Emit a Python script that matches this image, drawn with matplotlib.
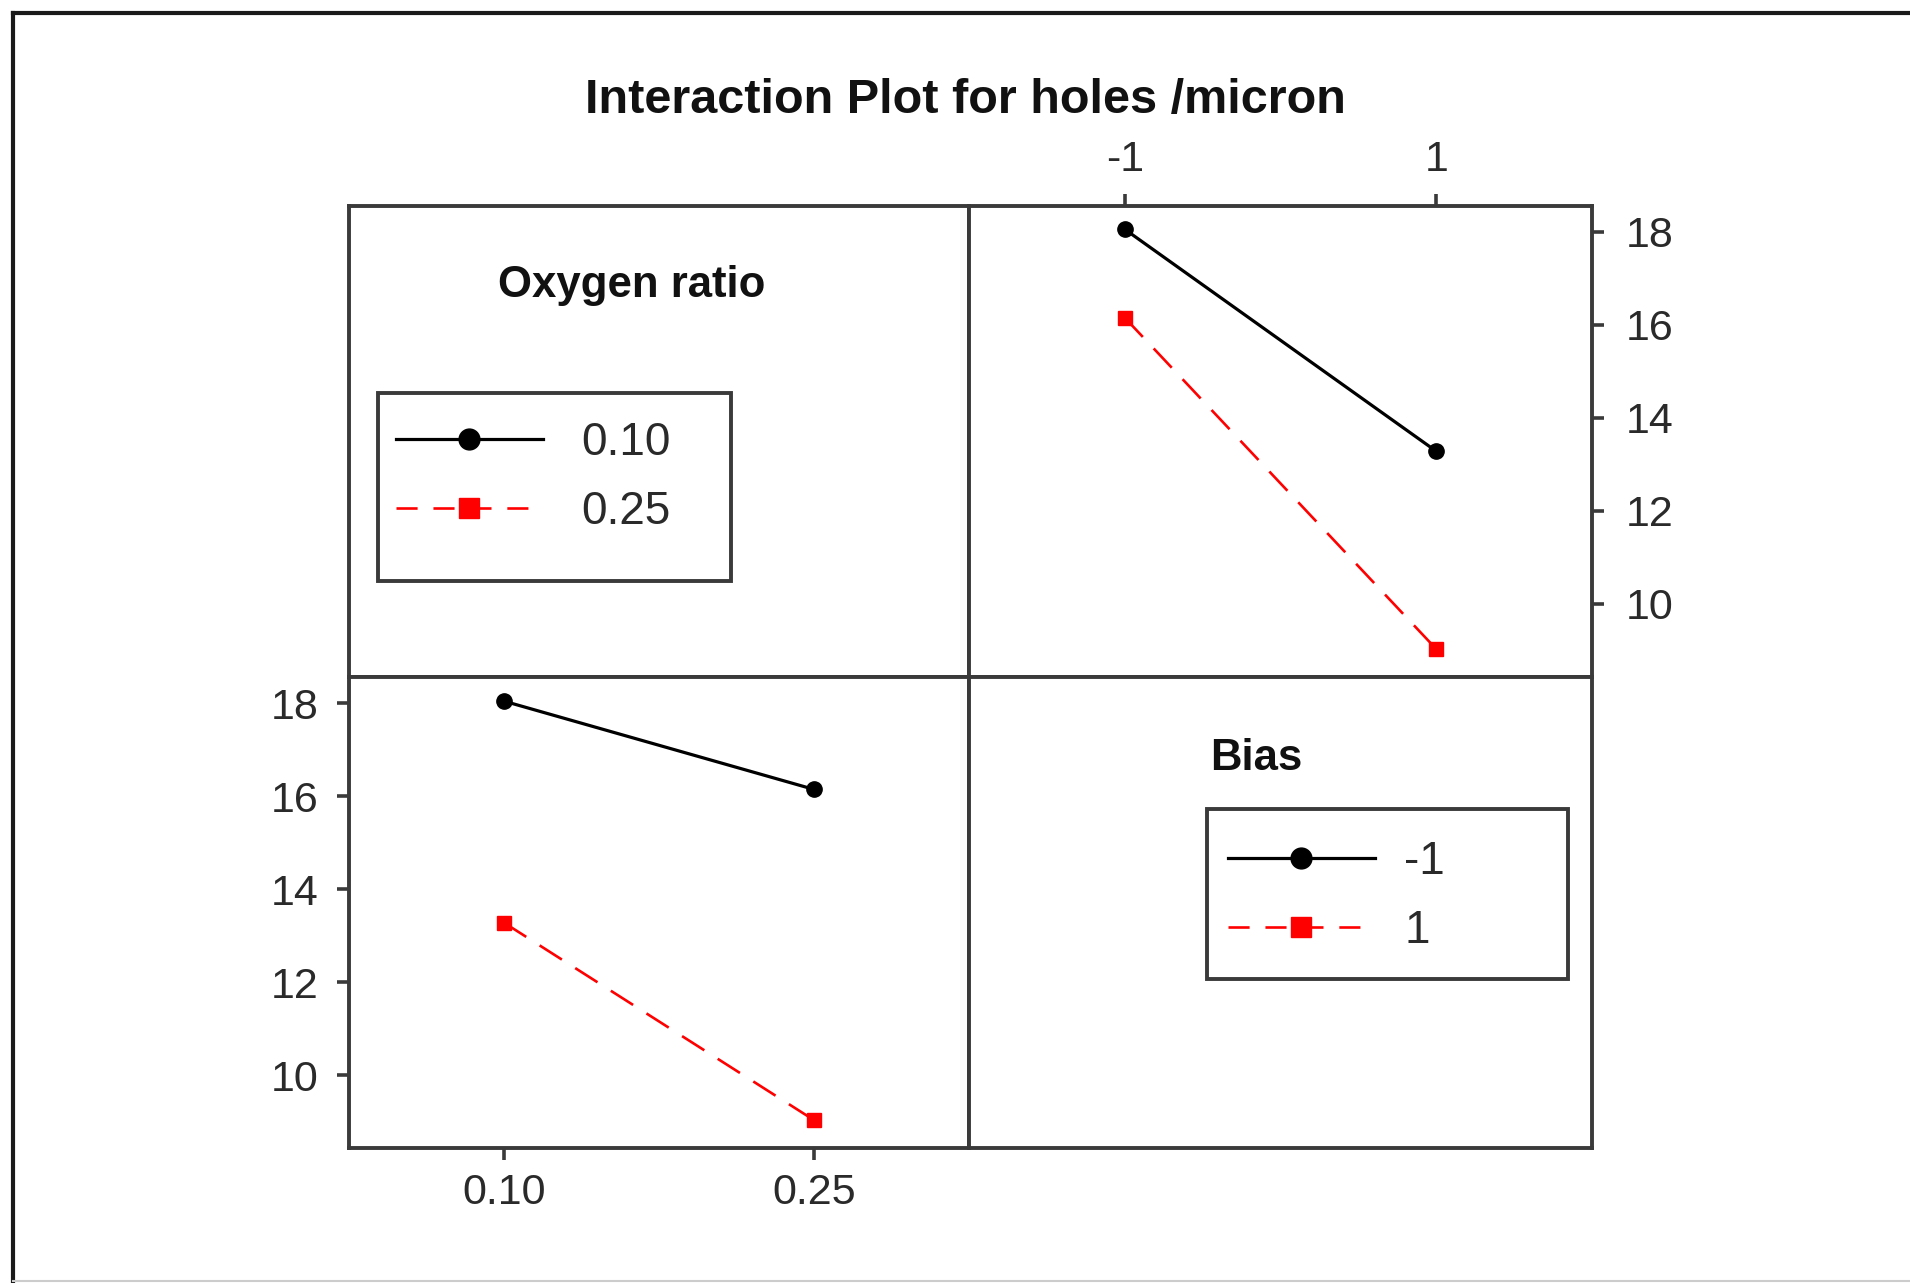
import matplotlib
matplotlib.use("Agg")
import matplotlib.pyplot as plt
from matplotlib.lines import Line2D
from matplotlib.patches import Rectangle

plt.rcParams['font.family'] = ['Liberation Sans', 'DejaVu Sans']

# cell means of holes/micron for each factor combination
oxygen_levels = [0.10, 0.25]
bias_levels = [-1, 1]
oxygen_labels = ['0.10', '0.25']
bias_labels = ['-1', '1']
# rows: oxygen ratio, columns: bias
mean_ox010 = [18.05, 13.28]
mean_ox025 = [16.15, 9.03]
# rows: bias, columns: oxygen ratio
mean_bias_m1 = [18.05, 16.15]
mean_bias_p1 = [13.28, 9.03]
y_ticks = [10, 12, 14, 16, 18]

W, H = 1910, 1283
fig = plt.figure(figsize=(W / 100, H / 100), dpi=100)

frame_col = '#3a3a3a'
x0, x1, x2 = 349 / W, 969 / W, 1592 / W
y_top, y_mid, y_bot = 1 - 206 / H, 1 - 677 / H, 1 - 1148 / H
pw, ph = x1 - x0, y_top - y_mid

ax_tl = fig.add_axes([x0, y_mid, pw, ph])
ax_tr = fig.add_axes([x1, y_mid, x2 - x1, ph])
ax_bl = fig.add_axes([x0, y_bot, pw, y_mid - y_bot])
ax_br = fig.add_axes([x1, y_bot, x2 - x1, y_mid - y_bot])

for ax in (ax_tl, ax_tr, ax_bl, ax_br):
    for sp in ax.spines.values():
        sp.set_color(frame_col)
        sp.set_linewidth(2.8)
    ax.tick_params(direction='out', length=8.6, width=2.6, color=frame_col,
                   labelsize=31, labelcolor='#2a2a2a')

for ax in (ax_tl, ax_br):
    ax.set_xticks([])
    ax.set_yticks([])

solid = dict(color='black', lw=2.3, marker='o', markersize=11)
dashed = dict(color='#ff0000', lw=1.9, marker='s', markersize=10.5,
              linestyle=(0, (10, 6)))

# top right: x = Bias, lines = Oxygen ratio
ax_tr.plot(bias_levels, mean_ox010, **solid)
ax_tr.plot(bias_levels, mean_ox025, **dashed)
ax_tr.set_xlim(-2, 2)
ax_tr.set_ylim(8.43, 18.55)
ax_tr.set_xticks(bias_levels)
ax_tr.set_xticklabels(bias_labels)
ax_tr.set_yticks(y_ticks)
ax_tr.xaxis.tick_top()
ax_tr.yaxis.tick_right()
ax_tr.tick_params(axis='x', pad=10)
ax_tr.tick_params(axis='y', pad=16)

# bottom left: x = Oxygen ratio, lines = Bias
ax_bl.plot(oxygen_levels, mean_bias_m1, **solid)
ax_bl.plot(oxygen_levels, mean_bias_p1, **dashed)
ax_bl.set_xlim(0.025, 0.325)
ax_bl.set_ylim(8.43, 18.57)
ax_bl.set_xticks(oxygen_levels)
ax_bl.set_xticklabels(oxygen_labels)
ax_bl.set_yticks(y_ticks)
ax_bl.tick_params(axis='x', pad=9.5)
ax_bl.tick_params(axis='y', pad=13)

# legends in the empty panels
def make_handles():
    h1 = Line2D([], [], color='black', lw=2.3, marker='o', markersize=15)
    h2 = Line2D([], [], color='#ff0000', lw=1.9, marker='s', markersize=15,
                linestyle=(0, (8, 6)))
    return [h1, h2]

leg1 = fig.legend(make_handles(), oxygen_labels, loc='center left',
                  bbox_to_anchor=(396 / W, 1 - 477.5 / H), frameon=False,
                  fontsize=33, handlelength=3.2, handletextpad=0.85,
                  labelspacing=0.56, borderpad=0, borderaxespad=0)
leg2 = fig.legend(make_handles(), bias_labels, loc='center left',
                  bbox_to_anchor=(1228 / W, 1 - 896.5 / H), frameon=False,
                  fontsize=33, handlelength=3.2, handletextpad=0.65,
                  labelspacing=0.56, borderpad=0, borderaxespad=0)
for leg in (leg1, leg2):
    for t in leg.get_texts():
        t.set_color('#2a2a2a')

fig.add_artist(Rectangle((378 / W, 1 - 581 / H), (731 - 378) / W, (581 - 393) / H,
                         transform=fig.transFigure, fill=False,
                         edgecolor=frame_col, lw=2.8))
fig.add_artist(Rectangle((1207 / W, 1 - 979 / H), (1568 - 1207) / W, (979 - 809) / H,
                         transform=fig.transFigure, fill=False,
                         edgecolor=frame_col, lw=2.8))

fig.text(632 / W, 1 - 286 / H, 'Oxygen ratio', ha='center', va='center',
         fontsize=31.5, fontweight='bold', color='#111111')
fig.text(1256 / W, 1 - 758 / H, 'Bias', ha='center', va='center',
         fontsize=31.5, fontweight='bold', color='#111111')
fig.text(965 / W, 1 - 100 / H, 'Interaction Plot for holes /micron',
         ha='center', va='center', fontsize=35, fontweight='bold',
         color='#111111')

# outer border of the graph window
fig.add_artist(Line2D([13 / W, 1], [1 - 13 / H, 1 - 13 / H],
                      transform=fig.transFigure, color='#1a1a1a', lw=3))
fig.add_artist(Line2D([13 / W, 13 / W], [0, 1 - 13 / H],
                      transform=fig.transFigure, color='#1a1a1a', lw=3))
fig.add_artist(Line2D([13 / W, 1], [2 / H, 2 / H],
                      transform=fig.transFigure, color='#cccccc', lw=1.5))

fig.savefig('out.png', dpi=100)
